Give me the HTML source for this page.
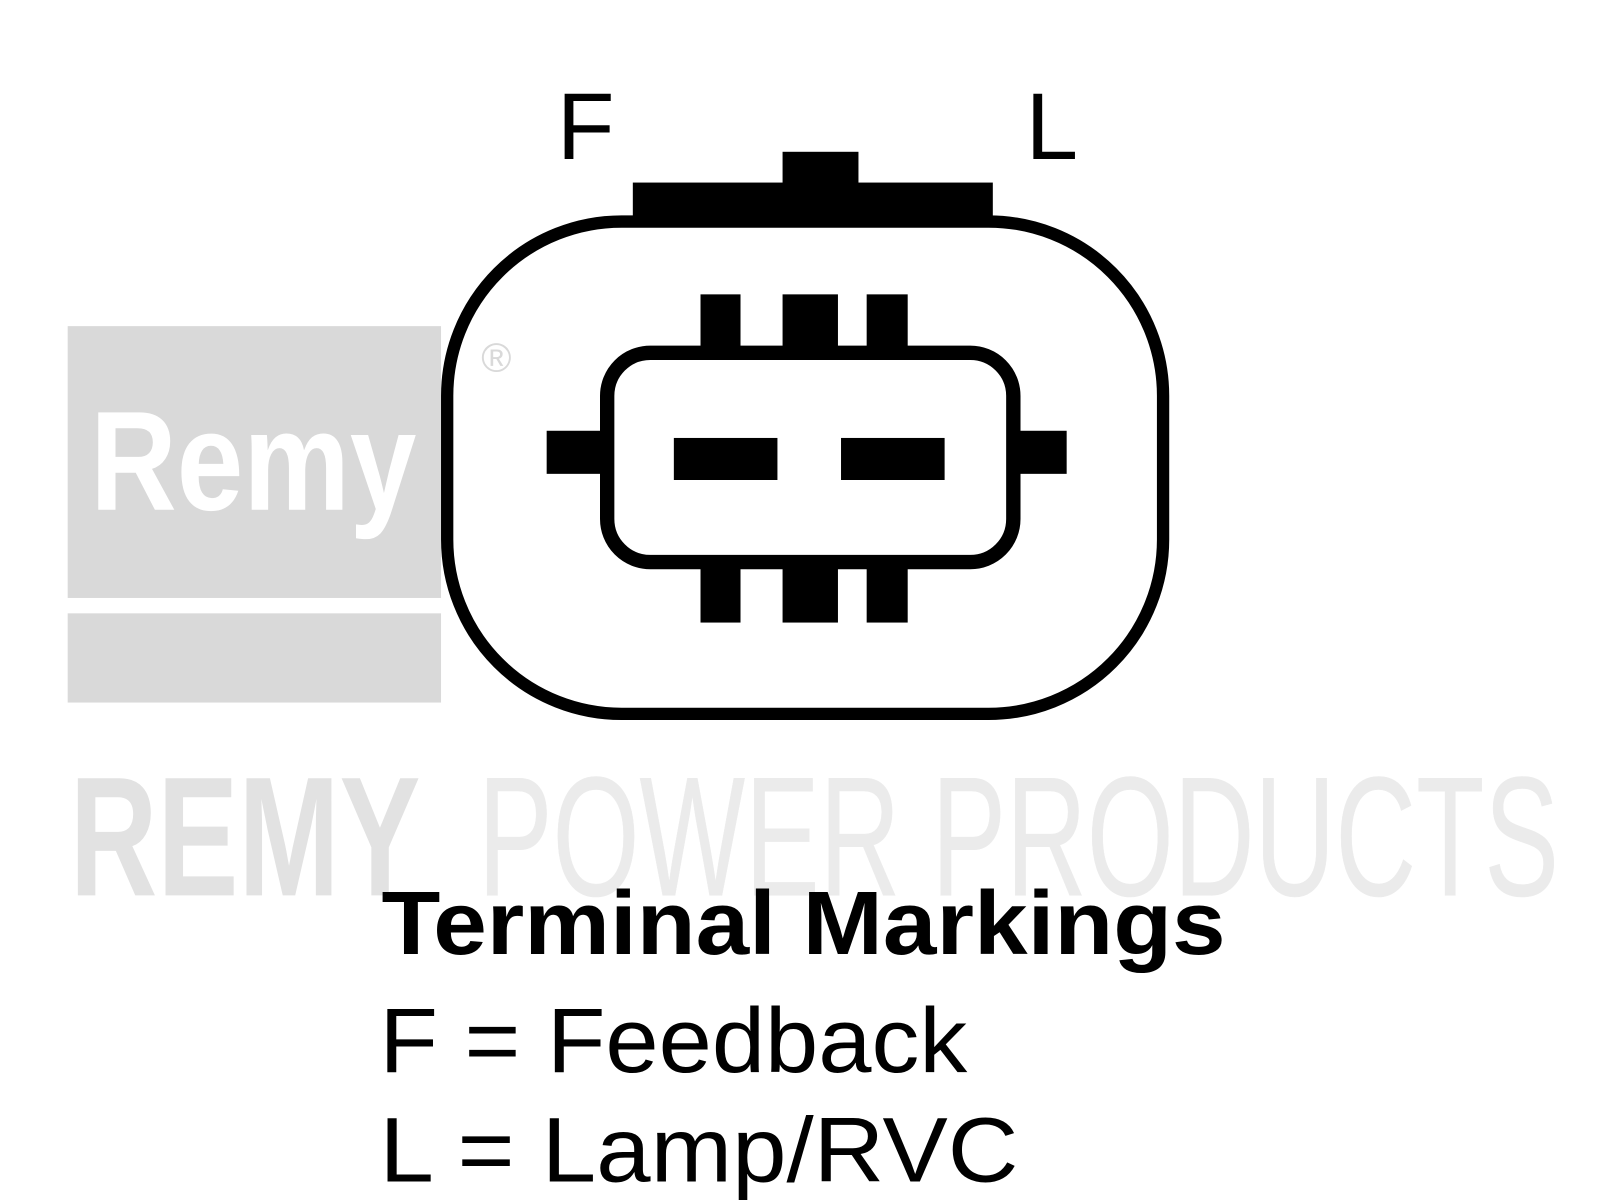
<!DOCTYPE html>
<html><head><meta charset="utf-8"><style>html,body{margin:0;padding:0;background:#fff;overflow:hidden}svg{display:block}</style></head>
<body>
<svg width="1600" height="1200" viewBox="0 0 1560 1170" preserveAspectRatio="none" xmlns="http://www.w3.org/2000/svg">
<rect width="1560" height="1170" fill="#fff"/>
<!-- logo -->
<rect x="66" y="318" width="364" height="265" fill="#d9d9d9"/>
<rect x="66" y="598" width="364" height="87" fill="#d9d9d9"/>
<text x="88" y="497" font-family="Liberation Sans, sans-serif" font-weight="bold" font-size="138" fill="#fff" textLength="318" lengthAdjust="spacingAndGlyphs">Remy</text>
<text x="484" y="362" font-family="Liberation Sans, sans-serif" font-size="40" fill="#d9d9d9" text-anchor="middle">®</text>
<text x="68" y="873" font-family="Liberation Sans, sans-serif" font-weight="bold" font-size="166" fill="#e2e2e2" textLength="342" lengthAdjust="spacingAndGlyphs">REMY</text>
<text x="466" y="873" font-family="Liberation Sans, sans-serif" font-size="166" fill="#ebebeb" stroke="#ebebeb" stroke-width="0.5" textLength="1054" lengthAdjust="spacingAndGlyphs">POWER PRODUCTS</text>
<!-- connector -->
<text x="543" y="155" font-family="Liberation Sans, sans-serif" font-size="92" fill="#000">F</text>
<text x="1000" y="155" font-family="Liberation Sans, sans-serif" font-size="92" fill="#000">L</text>
<rect x="763" y="148" width="74" height="40" fill="#000"/>
<rect x="617" y="178" width="351" height="40" fill="#000"/>
<rect x="436" y="216" width="698" height="480" rx="170" ry="170" fill="none" stroke="#000" stroke-width="12"/>
<rect x="592" y="344" width="396" height="204" rx="42" ry="42" fill="none" stroke="#000" stroke-width="14"/>
<rect x="683" y="287" width="39" height="52" fill="#000"/>
<rect x="763" y="287" width="54" height="52" fill="#000"/>
<rect x="845" y="287" width="40" height="52" fill="#000"/>
<rect x="683" y="553" width="39" height="54" fill="#000"/>
<rect x="763" y="553" width="54" height="54" fill="#000"/>
<rect x="845" y="553" width="40" height="54" fill="#000"/>
<rect x="533" y="420" width="55" height="42" fill="#000"/>
<rect x="992" y="420" width="48" height="42" fill="#000"/>
<rect x="657" y="427" width="101" height="41" fill="#000"/>
<rect x="820" y="427" width="101" height="41" fill="#000"/>
<!-- legend -->
<text x="372" y="930" font-family="Liberation Sans, sans-serif" font-weight="bold" font-size="88" fill="#000" textLength="823" lengthAdjust="spacingAndGlyphs">Terminal Markings</text>
<text x="370" y="1045" font-family="Liberation Sans, sans-serif" font-size="90" fill="#000" textLength="573" lengthAdjust="spacingAndGlyphs">F = Feedback</text>
<text x="370" y="1152" font-family="Liberation Sans, sans-serif" font-size="90" fill="#000" textLength="623" lengthAdjust="spacingAndGlyphs">L = Lamp/RVC</text>
</svg>
</body></html>
